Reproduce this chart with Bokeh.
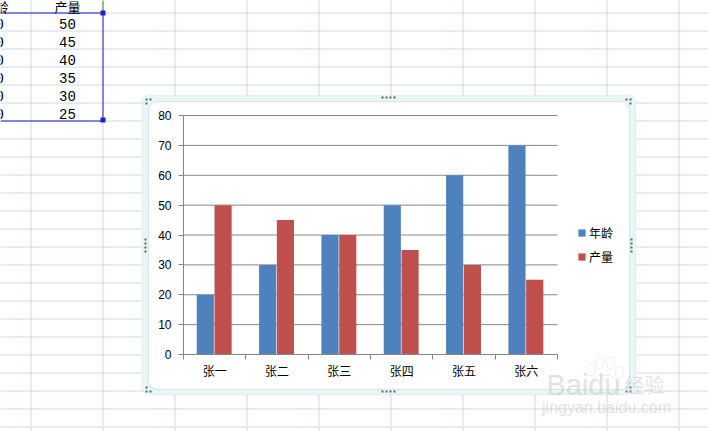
from bokeh.embed import file_html
from bokeh.models import BoxAnnotation, FixedTicker, Label, LinearAxis, Range1d
from bokeh.plotting import figure
from bokeh.resources import INLINE

names = ["张一", "张二", "张三", "张四", "张五", "张六"]
age = [20, 30, 40, 50, 60, 70]
output = [50, 45, 40, 35, 30, 25]
y_ticks = [0, 10, 20, 30, 40, 50, 60, 70, 80]
age_head = "年龄"
output_head = "产量"

WIDTH = 708
HEIGHT = 431
BLUE = "#4f81bd"
RED = "#c0504d"
AXIS = "#868686"
SHEET = "#d0d7e5"
MARK = "#c9c9c9"
CJK = "Noto Sans CJK SC"

# the frame fills the page, the ranges put the plot area where it is in the screenshot
PLOT_LEFT, PLOT_RIGHT, PLOT_TOP, PLOT_BOTTOM = 183, 557, 115, 354
x_scale = (PLOT_RIGHT - PLOT_LEFT) / len(names)
y_scale = (PLOT_BOTTOM - PLOT_TOP) / y_ticks[-1]


def add_box(p, left, top, right, bottom, fill, line=None, radius=0, fill_alpha=1.0, level="underlay"):
    # screen units count from the frame's lower left corner
    p.add_layout(BoxAnnotation(
        left=left, right=right, top=HEIGHT - top, bottom=HEIGHT - bottom,
        left_units="screen", right_units="screen",
        top_units="screen", bottom_units="screen",
        fill_color=fill, fill_alpha=fill_alpha,
        line_color=line, line_width=1,
        border_radius=radius, level=level, editable=False,
    ))


def add_text(p, x, y, text, size, font=CJK, color="black", alpha=1.0, level="underlay"):
    p.add_layout(Label(
        x=x, y=HEIGHT - y, x_units="screen", y_units="screen",
        text=text, text_font=font, text_font_size=size, text_color=color,
        text_alpha=alpha, text_align="center", text_baseline="middle",
        level=level,
    ))


def add_dots(p, points):
    for x, y in points:
        add_box(p, x, y, x + 2, y + 2, "#5a6468")


p = figure(
    width=WIDTH, height=HEIGHT,
    x_range=Range1d(-PLOT_LEFT / x_scale, (WIDTH - PLOT_LEFT) / x_scale),
    y_range=Range1d((PLOT_BOTTOM - HEIGHT) / y_scale, PLOT_BOTTOM / y_scale),
    x_axis_location=None, y_axis_location=None,
    output_backend="svg", toolbar_location=None, min_border=0,
    background_fill_color="white", border_fill_color="white",
)
p.outline_line_color = None
p.grid.visible = False

# the sheet behind the chart
for x in range(30, WIDTH, 72):
    add_box(p, x, 0, x + 1, HEIGHT, SHEET)
for y in range(12, HEIGHT, 18):
    add_box(p, 0, y, WIDTH, y + 1, SHEET)

# selected cells
add_box(p, 0, 12, 102, 13, "#1f1fd0")
add_box(p, 0, 120, 102, 121, "#1f1fd0")
add_box(p, 102, 12, 103, 121, "#1f1fd0")
add_box(p, 102, 0, 103, 12, "#2e8b2e")
add_box(p, 100, 10, 105, 15, "#1f1fd0")
add_box(p, 100, 117, 105, 122, "#1f1fd0")
add_text(p, -5, 6, age_head, "13px")
add_text(p, 67, 6, output_head, "13px")
for row, (a, v) in enumerate(zip(age, output)):
    add_text(p, -5, 23 + row * 18, str(a), "14px", font="Liberation Mono")
    add_text(p, 67, 23 + row * 18, str(v), "14px", font="Liberation Mono")

# chart card
add_box(p, 142, 95, 635, 394, "#e6f7f7", line="#c3d6d6", radius=6)
add_box(p, 148, 101, 629, 389, "white", line="#a4aeae", radius=9)
add_dots(p, [(145, 98), (149, 98), (145, 102), (625, 98), (629, 98), (629, 102),
             (145, 386), (145, 390), (149, 390), (625, 390), (629, 386), (629, 390),
             (381, 96), (385, 96), (389, 96), (393, 96),
             (381, 390), (385, 390), (389, 390), (393, 390),
             (144, 238), (144, 242), (144, 246), (144, 250),
             (630, 238), (630, 242), (630, 246), (630, 250)])

positions = list(range(len(names)))

# value lines, only as wide as the plot area
p.segment(x0=0, x1=len(names), y0=y_ticks, y1=y_ticks, line_color=AXIS, line_width=1)

p.vbar(x=[i + 0.35 for i in positions], top=age, width=0.275,
       fill_color=BLUE, line_color=None, legend_label="年龄")
p.vbar(x=[i + 0.635 for i in positions], top=output, width=0.275,
       fill_color=RED, line_color=None, legend_label="产量")

yaxis = LinearAxis(fixed_location=0, bounds=(0, y_ticks[-1]))
yaxis.ticker = FixedTicker(ticks=y_ticks)
yaxis.axis_line_color = AXIS
yaxis.major_tick_line_color = AXIS
yaxis.major_tick_in = 0
yaxis.major_tick_out = 5
yaxis.minor_tick_line_color = None
yaxis.major_label_standoff = 7
yaxis.major_label_text_font = "Liberation Sans"
yaxis.major_label_text_font_size = "12px"
yaxis.major_label_text_color = "black"
p.add_layout(yaxis, "left")

# labels sit in the middle of a category, the tick marks between categories
xaxis = LinearAxis(fixed_location=0, bounds=(0, len(names)))
xaxis.ticker = FixedTicker(
    ticks=[i + 0.5 for i in positions],
    minor_ticks=positions + [len(names)],
)
xaxis.major_label_overrides = {i + 0.5: n for i, n in zip(positions, names)}
xaxis.axis_line_color = AXIS
xaxis.major_tick_line_color = None
xaxis.minor_tick_line_color = AXIS
xaxis.minor_tick_in = 0
xaxis.minor_tick_out = 5
xaxis.major_label_standoff = 1
xaxis.major_label_text_font = CJK
xaxis.major_label_text_font_size = "12px"
xaxis.major_label_text_color = "black"
p.add_layout(xaxis, "below")

p.legend.location = (577, 166)
p.legend.background_fill_alpha = 0
p.legend.border_line_color = None
p.legend.glyph_width = 9
p.legend.glyph_height = 9
p.legend.label_height = 12
p.legend.label_text_font = CJK
p.legend.label_text_font_size = "12px"
p.legend.label_text_color = "black"
p.legend.label_standoff = 3
p.legend.spacing = 7
p.legend.padding = 0
p.legend.margin = 0

# watermark
for left, top, right, bottom, radius in [(586, 363, 594, 375, 5), (595, 356, 603, 368, 5),
                                         (606, 356, 614, 368, 5), (615, 366, 623, 378, 5),
                                         (592, 375, 616, 392, 8)]:
    add_box(p, left, top, right, bottom, "white", line=MARK, radius=radius, fill_alpha=0.3, level="overlay")
add_text(p, 583, 384, "Baidu", "29px", font="Liberation Sans", color=MARK, alpha=0.55, level="overlay")
add_text(p, 644, 384, "经验", "20px", color=MARK, alpha=0.55, level="overlay")
add_text(p, 606, 407, "jingyan.baidu.com", "16px", font="Liberation Sans", color=MARK, alpha=0.55, level="overlay")

open("out.html", "w").write(file_html(p, INLINE))
